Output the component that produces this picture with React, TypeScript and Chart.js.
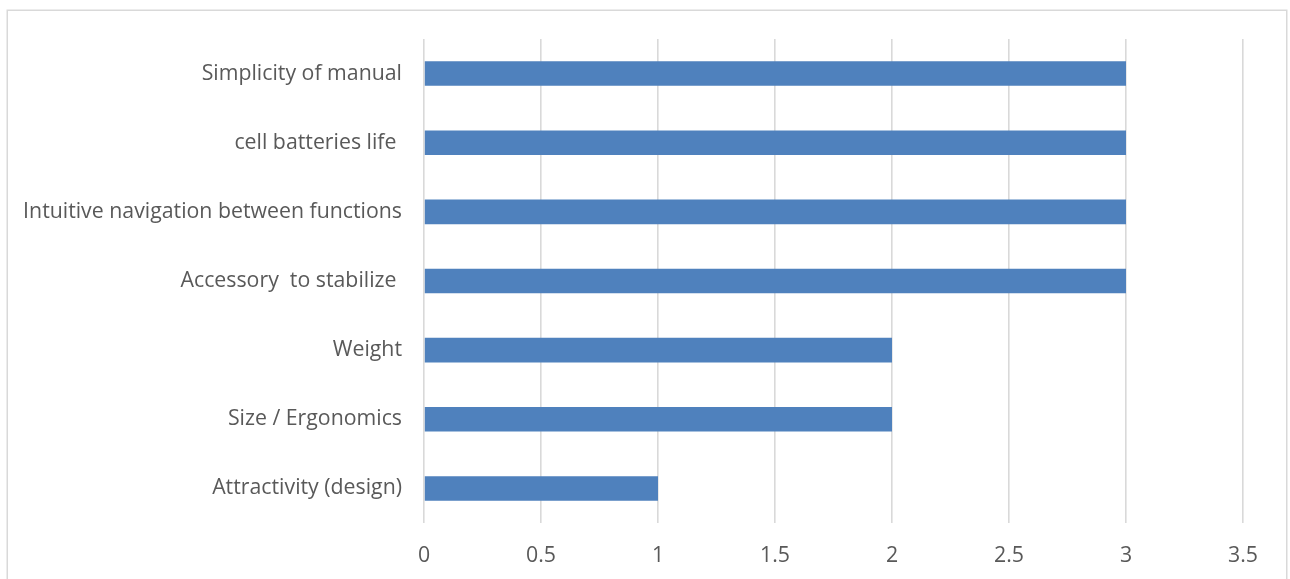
import React, { useEffect, useRef } from "react";
import { Chart, registerables } from "chart.js";

Chart.register(...registerables);

// Feature ratings, listed top to bottom
const categories = [
  "Simplicity of manual",
  "cell batteries life ",
  "Intuitive navigation between functions",
  "Accessory  to stabilize ",
  "Weight",
  "Size / Ergonomics",
  "Attractivity (design)",
];
const scores = [3, 3, 3, 3, 2, 2, 1];
const xTickLabels = ["0", "0.5", "1", "1.5", "2", "2.5", "3", "3.5"];

const TEXT = "#595959";
const GRID = "#d9d9d9";
const BAR = "#4f81bd";
const FONT = "'Open Sans', 'Liberation Sans', sans-serif";

// Thin frame around the chart
const framePlugin = {
  id: "frame",
  beforeDraw(chart: Chart) {
    const ctx = chart.ctx;
    ctx.save();
    ctx.fillStyle = "#ffffff";
    ctx.fillRect(0, 0, chart.width, chart.height);
    ctx.strokeStyle = GRID;
    ctx.lineWidth = 1.5;
    ctx.strokeRect(7.25, 10.25, 1279.5, 620);
    ctx.restore();
  },
};

export default function App() {
  const ref = useRef<HTMLCanvasElement | null>(null);

  useEffect(() => {
    if (!ref.current) return;
    const chart = new Chart(ref.current, {
      type: "bar",
      data: {
        labels: categories,
        datasets: [
          {
            data: scores,
            backgroundColor: BAR,
            borderWidth: 0,
            barPercentage: 0.355,
            categoryPercentage: 1,
          },
        ],
      },
      plugins: [framePlugin],
      options: {
        indexAxis: "y",
        animation: false,
        responsive: false,
        devicePixelRatio: 1,
        layout: { padding: { top: 39, right: 47, bottom: 0, left: 0 } },
        plugins: {
          legend: { display: false },
          tooltip: { enabled: false },
        },
        scales: {
          x: {
            min: 0,
            max: 3.5,
            border: { display: false },
            grid: { color: GRID, lineWidth: 1.6, drawTicks: false },
            ticks: {
              stepSize: 0.5,
              padding: 20,
              color: TEXT,
              font: { family: FONT, size: 21.3 },
              callback: (_v: any, i: number) => xTickLabels[i],
            },
            afterFit: (scale: any) => {
              scale.height = 56;
            },
          },
          y: {
            border: { display: false },
            grid: { display: false, drawTicks: false },
            ticks: {
              padding: 22,
              color: TEXT,
              font: { family: FONT, size: 21.3 },
            },
            afterFit: (scale: any) => {
              scale.width = 424;
            },
          },
        },
      },
    });
    return () => chart.destroy();
  }, []);

  return (
    <div style={{ position: "absolute", left: 0, top: 0, width: 1290, height: 579 }}>
      <canvas ref={ref} width={1290} height={579} />
    </div>
  );
}
